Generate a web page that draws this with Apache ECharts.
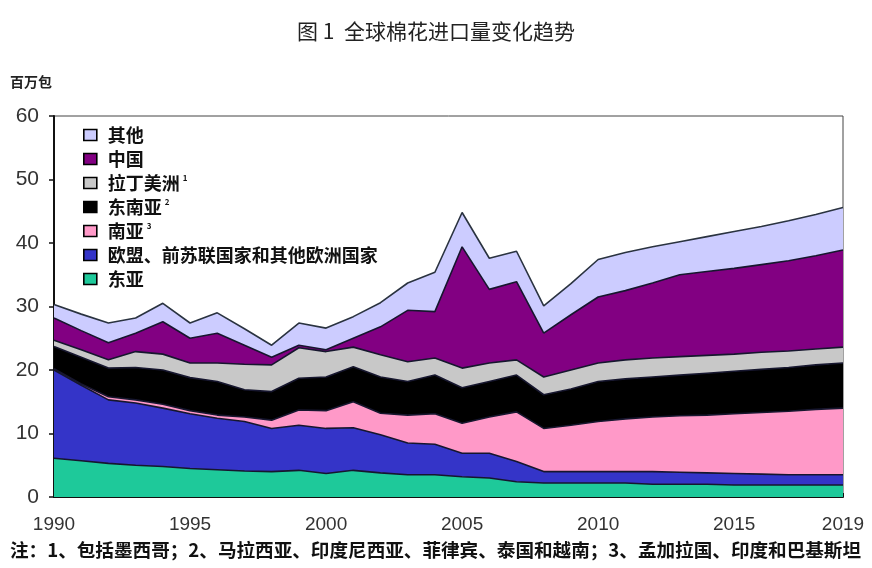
<!DOCTYPE html>
<html><head><meta charset="utf-8">
<script src="https://cdn.jsdelivr.net/npm/echarts@6/dist/echarts.min.js"></script>
<style>html,body{margin:0;padding:0;background:#fff}#c{width:872px;height:568px}</style>
</head><body><div id="c"></div>
<script>
const years = ['1990','1991','1992','1993','1994','1995','1996','1997','1998','1999','2000','2001','2002','2003','2004','2005','2006','2007','2008','2009','2010','2011','2012','2013','2014','2015','2016','2017','2018','2019'];
const eastAsia   = [6.1,5.7,5.3,5.0,4.8,4.5,4.3,4.1,4.0,4.2,3.7,4.2,3.8,3.5,3.5,3.2,3.0,2.4,2.2,2.2,2.2,2.2,2.0,2.0,2.0,1.9,1.9,1.9,1.9,1.9];
const europe     = [13.9,11.9,10.0,9.8,9.2,8.6,8.1,7.8,6.8,7.1,7.1,6.7,6.0,5.0,4.8,3.7,3.9,3.2,1.8,1.8,1.8,1.8,2.0,1.9,1.8,1.8,1.7,1.6,1.6,1.6];
const southAsia  = [0.2,0.2,0.5,0.5,0.6,0.5,0.5,0.7,1.3,2.4,2.8,4.1,3.4,4.4,4.8,4.7,5.7,7.8,6.8,7.3,7.9,8.3,8.6,8.9,9.1,9.4,9.7,10.0,10.3,10.5];
const seAsia     = [3.5,4.2,4.5,5.1,5.4,5.2,5.3,4.3,4.5,5.0,5.3,5.5,5.7,5.3,6.1,5.6,5.6,5.8,5.3,5.7,6.3,6.3,6.3,6.4,6.6,6.7,6.8,6.9,7.0,7.1];
const latAm      = [1.0,1.2,1.3,2.5,2.5,2.3,2.9,4.0,4.2,4.8,4.0,3.1,3.5,3.1,2.7,3.1,2.9,2.4,2.8,3.0,2.9,3.0,3.0,2.9,2.8,2.7,2.7,2.6,2.5,2.5];
const china      = [3.5,3.0,2.7,2.9,5.1,3.9,4.7,3.0,1.2,0.4,0.3,1.4,4.4,8.1,7.3,19.1,11.6,12.3,6.9,8.7,10.4,10.9,11.8,12.9,13.2,13.5,13.8,14.2,14.7,15.3];
const others     = [2.1,2.6,3.1,2.4,2.9,2.4,3.2,2.6,1.9,3.5,3.4,3.4,3.8,4.3,6.2,5.4,4.9,4.8,4.3,4.9,5.9,6.0,5.7,5.2,5.5,5.8,6.0,6.3,6.5,6.7];
const yTicks = [0,10,20,30,40,50,60];
const xLabelYears = ['1990','1995','2000','2005','2010','2015','2019'];

const names = ['东亚','欧盟、前苏联国家和其他欧洲国家','南亚','东南亚','拉丁美洲','中国','其他'];
const datas = [eastAsia, europe, southAsia, seAsia, latAm, china, others];
const colors = ['#1ec99a','#3434c8','#ff99c8','#000000','#c8c8c8','#820082','#ccccff'];

const chart = echarts.init(document.getElementById('c'), null, {renderer:'canvas'});
const series = names.map((n,i)=>({
  name:n, type:'line', stack:'total', data:datas[i], symbol:'none', smooth:false,
  color: colors[i],
  itemStyle:{color:colors[i]},
  lineStyle:{color: i===6 ? '#2a3340' : '#16162e', width:1.6},
  areaStyle:{color:colors[i], opacity:1},
  z: 2
}));
const sup = {'拉丁美洲':'1','东南亚':'2','南亚':'3'};
chart.setOption({
  animation:false,
  backgroundColor:'#fff',
  title:{text:'图 1  全球棉花进口量变化趋势', left:'center', top:16,
    textStyle:{fontFamily:'Noto Sans CJK SC', fontSize:21, fontWeight:'normal', color:'#222'}},
  grid:{left:54, right:29, top:116, bottom:71, show:true, borderColor:'#444', borderWidth:1},
  legend:{
    orient:'vertical', left:78, top:121, itemGap:6, itemWidth:13, itemHeight:11, icon:'rect',
    data:['其他','中国','拉丁美洲','东南亚','南亚','欧盟、前苏联国家和其他欧洲国家','东亚'],
    itemStyle:{borderColor:'#000', borderWidth:1.6},
    formatter:function(n){ return sup[n] ? n + '{s|' + sup[n] + '}' : n; },
    textStyle:{fontFamily:'Noto Sans CJK SC', fontSize:18, fontWeight:'bold', color:'#111', padding:[0,0,0,6],
      rich:{s:{fontSize:8, fontWeight:'bold', verticalAlign:'top', padding:[0,0,8,3], color:'#111'}}}
  },
  xAxis:{type:'category', data:years, boundaryGap:false,
    axisLine:{show:true, lineStyle:{color:'#111', width:2}},
    axisTick:{show:true, inside:true, length:4, lineStyle:{color:'#111', width:2},
      interval:function(i,v){return xLabelYears.indexOf(v)>=0;}},
    axisLabel:{interval:function(i,v){return xLabelYears.indexOf(v)>=0;}, margin:18,
      fontFamily:'Liberation Sans', fontSize:19, color:'#333'},
    splitLine:{show:false}},
  yAxis:{type:'value', min:yTicks[0], max:yTicks[yTicks.length-1], interval:10,
    axisLine:{show:true, lineStyle:{color:'#111', width:2}},
    axisTick:{show:true, inside:false, length:5, lineStyle:{color:'#111', width:1.5}},
    axisLabel:{margin:15, fontFamily:'Liberation Sans', fontSize:21, color:'#333'},
    splitLine:{show:false}},
  graphic:[
    {type:'text', left:10, top:75, style:{text:'百万包', font:'bold 14px "Noto Sans CJK SC"', fill:'#222'}},
    {type:'text', left:10, top:541, style:{text:'注：1、包括墨西哥；2、马拉西亚、印度尼西亚、菲律宾、泰国和越南；3、孟加拉国、印度和巴基斯坦', font:'bold 18.6px "Noto Sans CJK SC"', fill:'#111'}}
  ],
  series:series
});
</script></body></html>
